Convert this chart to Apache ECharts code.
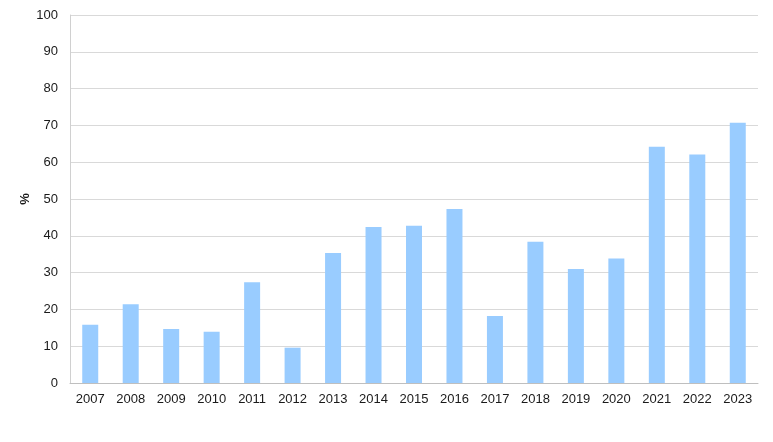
<!DOCTYPE html>
<html><head><meta charset="utf-8">
<script src="https://cdn.jsdelivr.net/npm/echarts@6/dist/echarts.min.js"></script>
<style>html,body{margin:0;padding:0;background:#fff}#c{width:773px;height:442px}</style>
</head><body><div id="c"></div>
<script>
const years = ['2007','2008','2009','2010','2011','2012','2013','2014','2015','2016','2017','2018','2019','2020','2021','2022','2023'];
const values = [15.8,21.4,14.7,13.9,27.4,9.6,35.3,42.4,42.7,47.3,18.2,38.4,31.0,33.8,64.2,62.1,70.7];
const yTicks = {min:0,max:100,interval:10};
const yName = '%';
const chart = echarts.init(document.getElementById('c'));
chart.setOption({
  animation:false,
  grid:{left:70,right:15,top:15,bottom:59,containLabel:false},
  graphic:[{type:'text',x:25,y:199,rotation:Math.PI/2,
    style:{text:yName,fill:'#1a1a1a',font:'bold 13px "Liberation Sans", Arial',align:'center',verticalAlign:'middle'}}],
  xAxis:{type:'category',data:years,
    axisLine:{lineStyle:{color:'#BFBFBF',width:1}},
    axisTick:{show:false},
    axisLabel:{color:'#1a1a1a',fontFamily:'Liberation Sans, Arial',fontSize:13,margin:10}},
  yAxis:{type:'value',min:yTicks.min,max:yTicks.max,interval:yTicks.interval,
    axisLine:{show:true,lineStyle:{color:'#D0D0D0'}},
    axisTick:{show:false},
    splitLine:{lineStyle:{color:'#D9D9D9'}},
    axisLabel:{color:'#1a1a1a',fontFamily:'Liberation Sans, Arial',fontSize:13,margin:12}},
  series:[{type:'bar',data:values,barWidth:16,itemStyle:{color:'#99CCFF'}}]
});
</script></body></html>
